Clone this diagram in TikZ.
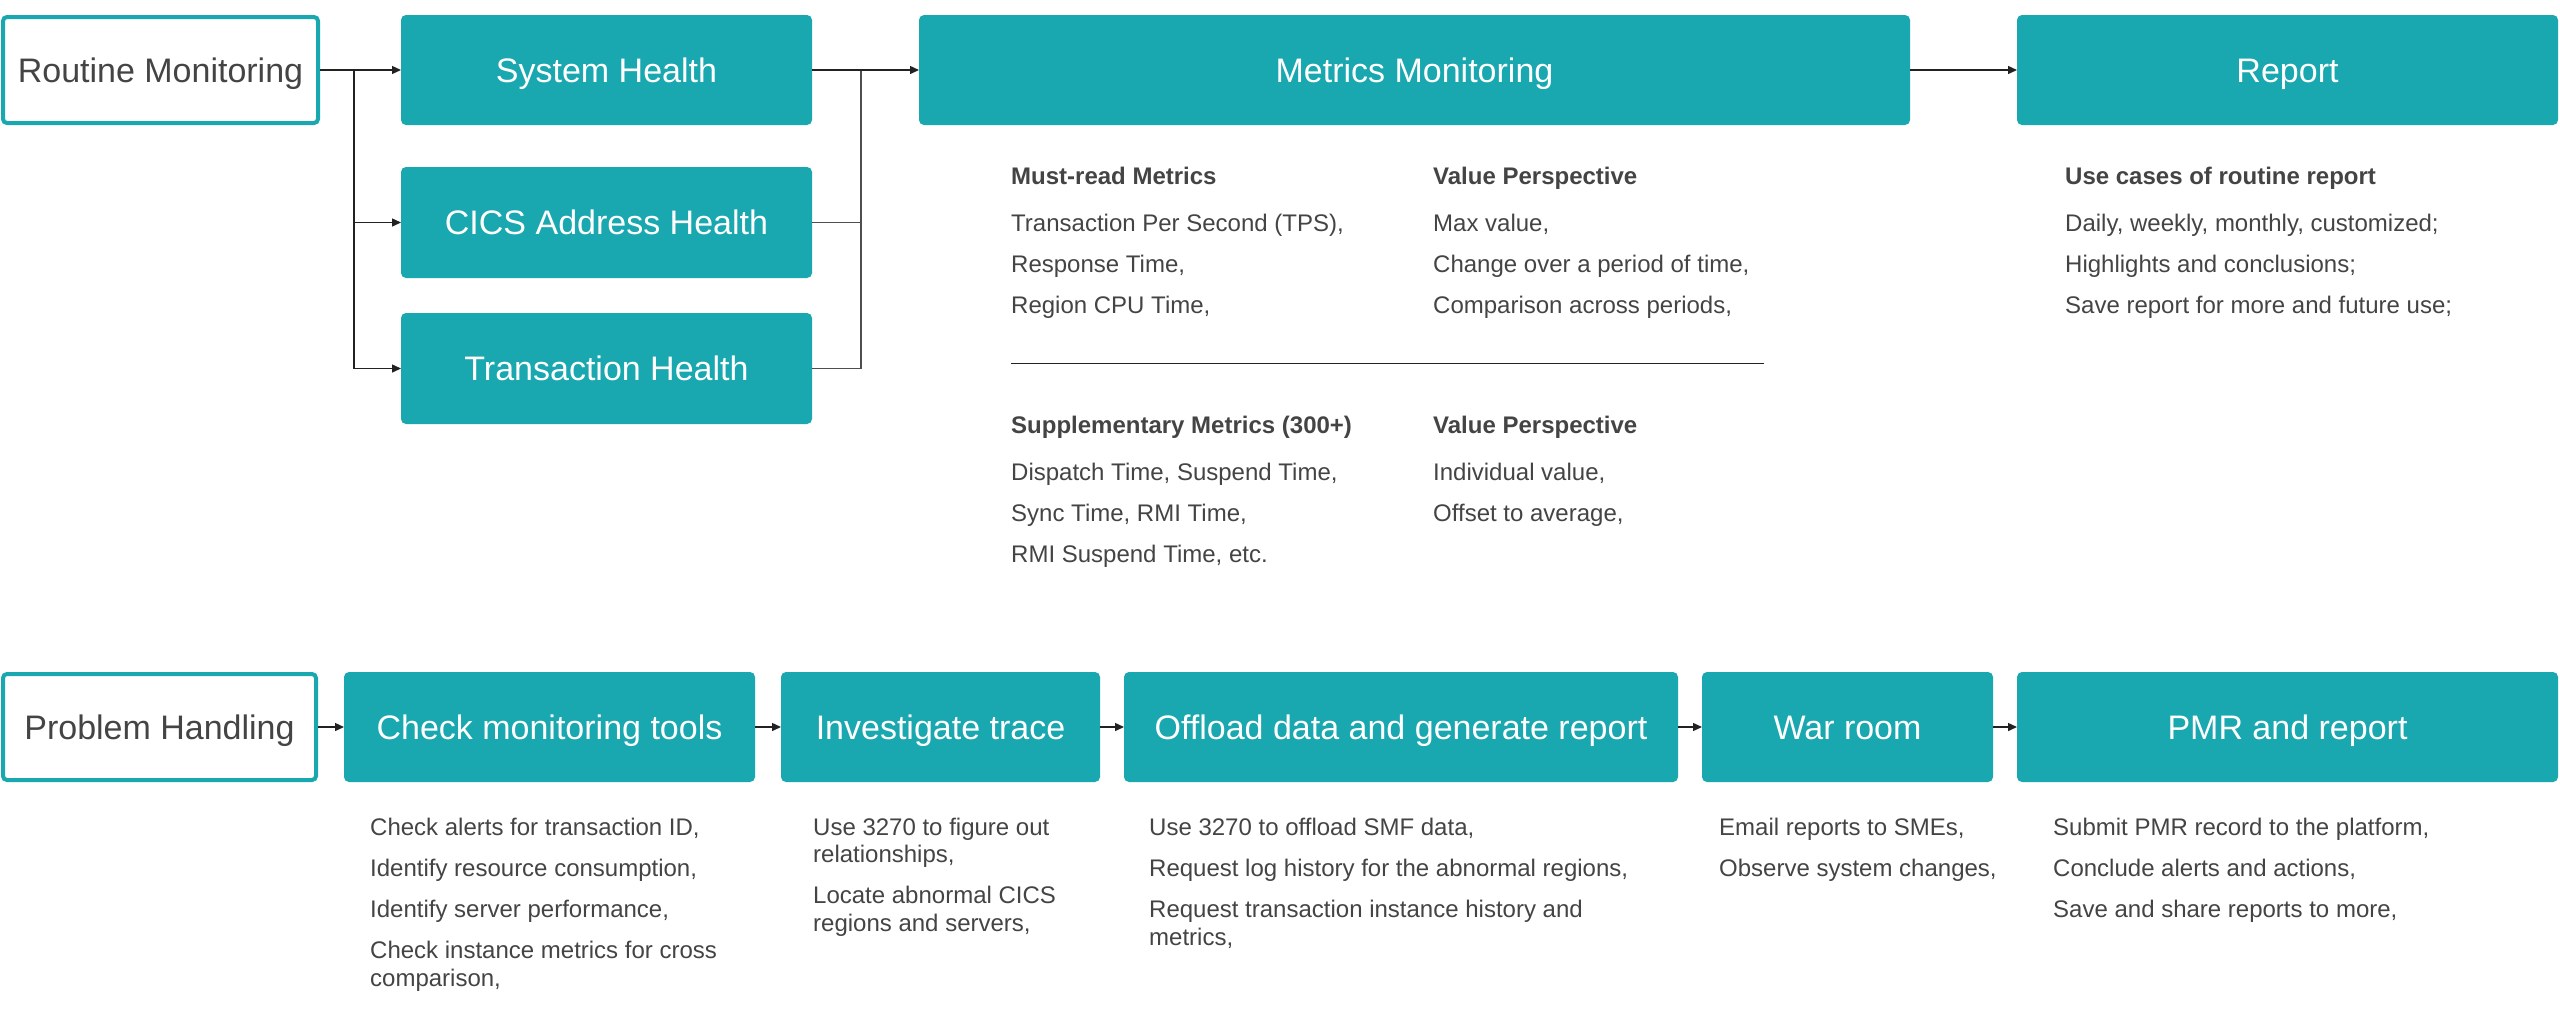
\documentclass[tikz,border=0pt]{standalone}
\usepackage{fontspec}
\setmainfont{Liberation Sans}
\usetikzlibrary{arrows.meta}

\definecolor{stagefill}{HTML}{19A7B0}
\definecolor{textgray}{HTML}{444444}
\definecolor{linegray}{HTML}{222222}

\newcommand{\labelfont}{\fontsize{34}{40}\selectfont}
\newcommand{\notefont}{\fontsize{24}{28}\selectfont}

\begin{document}
\begin{tikzpicture}[x=1pt,y=-1pt,
  stage/.style={rectangle, fill=stagefill, draw=none, rounded corners=5pt,
    inner sep=0pt, outer sep=0pt, text=white, font=\labelfont,
    text height=26pt, text depth=2pt},
  startbox/.style={rectangle, draw=stagefill, line width=4pt, fill=white,
    rounded corners=4pt, inner sep=0pt, text=textgray, font=\labelfont,
    text height=26pt, text depth=2pt},
  note/.style={anchor=base west, inner sep=0pt, text=textgray, font=\notefont},
  heading/.style={note, font=\notefont\bfseries},
  arr/.style={draw=linegray, line width=1.4pt, -{Triangle[length=9pt,width=8pt]}},
  link/.style={draw=linegray!80, line width=1.4pt},
  rule/.style={draw=linegray, line width=1pt}
]
\useasboundingbox (0,0) rectangle (2560,1010);
\fill[white] (0,0) rectangle (2560,1010);

% ---------- routine monitoring row ----------
\node[startbox, minimum width=315pt, minimum height=106pt] (rm) at (160.5,70) {Routine Monitoring};
\node[stage, minimum width=411pt, minimum height=110pt] (sh) at (606.5,70) {System Health};
\node[stage, minimum width=411pt, minimum height=111pt] (cics) at (606.5,222.5) {CICS Address Health};
\node[stage, minimum width=411pt, minimum height=111pt] (th) at (606.5,368.5) {Transaction Health};
\node[stage, minimum width=991pt, minimum height=110pt] (mm) at (1414.5,70) {Metrics Monitoring};
\node[stage, minimum width=541pt, minimum height=110pt] (rep) at (2287.5,70) {Report};

\coordinate (split) at (354,70);
\coordinate (merge) at (861,70);
\draw[arr] (rm.east) -- (sh.west);
\draw[arr] (split) |- (cics.west);
\draw[arr] (split) |- (th.west);
\draw[link] (cics.east) -| (merge);
\draw[link] (th.east) -| (merge);
\draw[arr] (sh.east) -- (mm.west);
\draw[arr] (mm.east) -- (rep.west);

% metrics details
\node[heading] (mr-h) at (1011,184) {Must-read Metrics};
\foreach \yy/\txt [count=\i] in {231/{Transaction Per Second (TPS),}, 272/{Response Time,}, 313/{Region CPU Time,}}
  \node[note] (mr-\i) at (1011,\yy) {\txt};
\node[heading] (vp-h) at (1433,184) {Value Perspective};
\foreach \yy/\txt [count=\i] in {231/{Max value,}, 272/{Change over a period of time,}, 313/{Comparison across periods,}}
  \node[note] (vp-\i) at (1433,\yy) {\txt};

\coordinate (ruleL) at (1011,363);
\coordinate (ruleR) at (1764,363);
\draw[rule] (ruleL) -- (ruleR);

\node[heading] (sm-h) at (1011,433) {Supplementary Metrics (300+)};
\foreach \yy/\txt [count=\i] in {480/{Dispatch Time, Suspend Time,}, 521/{Sync Time, RMI Time,}, 562/{RMI Suspend Time, etc.}}
  \node[note] (sm-\i) at (1011,\yy) {\txt};
\node[heading] (sv-h) at (1433,433) {Value Perspective};
\foreach \yy/\txt [count=\i] in {480/{Individual value,}, 521/{Offset to average,}}
  \node[note] (sv-\i) at (1433,\yy) {\txt};

% report details
\node[heading] (rp-h) at (2065,184) {Use cases of routine report};
\foreach \yy/\txt [count=\i] in {231/{Daily, weekly, monthly, customized;}, 272/{Highlights and conclusions;}, 313/{Save report for more and future use;}}
  \node[note] (rp-\i) at (2065,\yy) {\txt};

% ---------- problem handling row ----------
\node[startbox, minimum width=313pt, minimum height=106pt] (ph) at (159.5,727) {Problem Handling};
\node[stage, minimum width=411pt, minimum height=110pt] (cmt) at (549.5,727) {Check monitoring tools};
\node[stage, minimum width=319pt, minimum height=110pt] (inv) at (940.5,727) {Investigate trace};
\node[stage, minimum width=554pt, minimum height=110pt] (off) at (1401,727) {Offload data and generate report};
\node[stage, minimum width=291pt, minimum height=110pt] (war) at (1847.5,727) {War room};
\node[stage, minimum width=541pt, minimum height=110pt] (pmr) at (2287.5,727) {PMR and report};

\draw[arr] (ph.east) -- (cmt.west);
\draw[arr] (cmt.east) -- (inv.west);
\draw[arr] (inv.east) -- (off.west);
\draw[arr] (off.east) -- (war.west);
\draw[arr] (war.east) -- (pmr.west);

\foreach \yy/\txt [count=\i] in {835/{Check alerts for transaction ID,}, 876/{Identify resource consumption,}, 917/{Identify server performance,}, 958/{Check instance metrics for cross}, 986/{comparison,}}
  \node[note] (cmt-\i) at (370,\yy) {\txt};
\foreach \yy/\txt [count=\i] in {835/{Use 3270 to figure out}, 862/{relationships,}, 903/{Locate abnormal CICS}, 931/{regions and servers,}}
  \node[note] (inv-\i) at (813,\yy) {\txt};
\foreach \yy/\txt [count=\i] in {835/{Use 3270 to offload SMF data,}, 876/{Request log history for the abnormal regions,}, 917/{Request transaction instance history and}, 945/{metrics,}}
  \node[note] (off-\i) at (1149,\yy) {\txt};
\foreach \yy/\txt [count=\i] in {835/{Email reports to SMEs,}, 876/{Observe system changes,}}
  \node[note] (war-\i) at (1719,\yy) {\txt};
\foreach \yy/\txt [count=\i] in {835/{Submit PMR record to the platform,}, 876/{Conclude alerts and actions,}, 917/{Save and share reports to more,}}
  \node[note] (pmr-\i) at (2053,\yy) {\txt};
\end{tikzpicture}
\end{document}
